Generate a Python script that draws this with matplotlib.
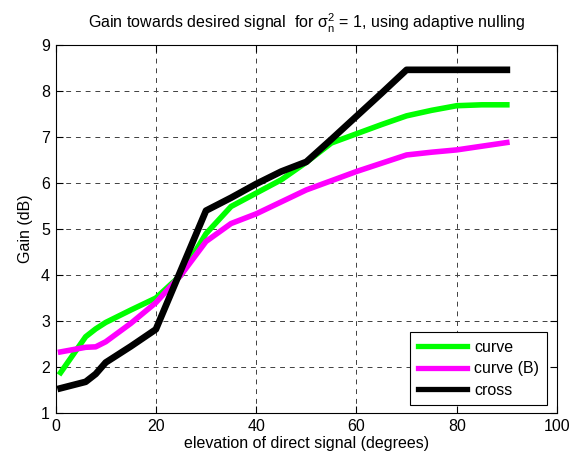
import matplotlib
matplotlib.use('Agg')
import matplotlib.pyplot as plt

plt.rcParams['font.family'] = ['Liberation Sans', 'DejaVu Sans']
plt.rcParams['mathtext.fontset'] = 'custom'
plt.rcParams['mathtext.rm'] = 'Liberation Sans'
plt.rcParams['mathtext.it'] = 'Liberation Sans'
plt.rcParams['mathtext.default'] = 'regular'

# elevation of direct signal (degrees)
elev = [1, 6, 8, 10, 15, 20, 25, 30, 35, 40, 45, 50, 55, 60, 65, 70, 75, 80, 85, 90]
gain_curve = [1.88, 2.66, 2.83, 2.97, 3.24, 3.50, 4.00, 4.90, 5.49, 5.78, 6.07, 6.45,
              6.87, 7.07, 7.27, 7.46, 7.58, 7.68, 7.70, 7.70]
gain_curve_b = [2.33, 2.43, 2.44, 2.55, 2.95, 3.40, 4.00, 4.73, 5.12, 5.33, 5.59, 5.85,
                6.05, 6.25, 6.43, 6.61, 6.67, 6.72, 6.80, 6.88]
gain_cross = [1.54, 1.68, 1.85, 2.10, 2.45, 2.82, 4.11, 5.40, 5.68, 5.98, 6.25, 6.46,
              6.95, 7.45, 7.95, 8.46, 8.46, 8.46, 8.46, 8.46]

fig = plt.figure(figsize=(5.79, 4.59), dpi=100)
ax = fig.add_axes([0.096, 0.100, 0.866, 0.802])

ax.plot(elev, gain_curve, color='#00ff00', lw=4, label='curve')
ax.plot(elev, gain_curve_b, color='#ff00ff', lw=4, label='curve (B)')
ax.plot(elev, gain_cross, color='black', lw=4.8, label='cross')

ax.set_xlim(0, 100)
ax.set_ylim(1, 9)
ax.set_xticks(range(0, 101, 20))
ax.set_yticks(range(1, 10))
ax.grid(True, color='#404040', linestyle=(0, (5, 5)), linewidth=0.7)
ax.tick_params(direction='in', top=True, right=True, labelsize=11.5, length=5, pad=4)
for s in ax.spines.values():
    s.set_linewidth(0.8)

ax.set_xlabel('elevation of direct signal (degrees)', fontsize=11.5, labelpad=2)
ax.set_ylabel('Gain (dB)', fontsize=11.5, labelpad=6)
ax.set_title(r'Gain towards desired signal  for $\sigma_n^2$ = 1, using adaptive nulling',
             fontsize=11.5, pad=12)

leg = ax.legend(loc='lower right', fontsize=11.5, fancybox=False, framealpha=1,
                edgecolor='black', handlelength=3.1, borderpad=0.45, labelspacing=0.42,
                handletextpad=0.45, bbox_to_anchor=(0.995, 0.0))
leg.get_frame().set_linewidth(0.8)
for h in leg.get_lines():
    h.set_linewidth(3.8)

fig.savefig('out.png', dpi=100)
